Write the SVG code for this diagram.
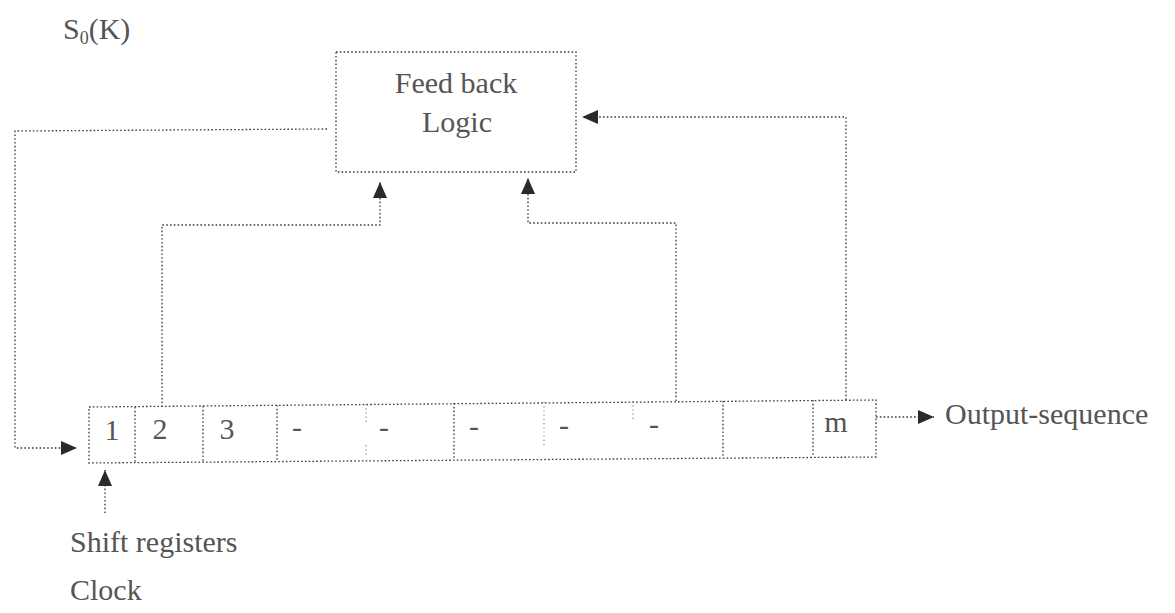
<svg xmlns="http://www.w3.org/2000/svg" width="1175" height="613" viewBox="0 0 1175 613">
<style>
.ln{fill:none;stroke:#3a3a3a;stroke-width:1.3;stroke-dasharray:1.6 2.2}
.bx{fill:none;stroke:#3a3a3a;stroke-width:1.3;stroke-dasharray:1.6 2.2}
.faint{fill:none;stroke:#8a8a8a;stroke-width:1.2;stroke-dasharray:1.2 3}
.t{font-family:"Liberation Serif","Times New Roman",serif;font-size:30px;fill:#555}
.tc{text-anchor:middle}
</style>
<defs>
<marker id="ah" viewBox="0 0 16 16" refX="16" refY="8" markerWidth="16" markerHeight="16" markerUnits="userSpaceOnUse" orient="auto">
<path d="M0,1 L16,8 L0,15 Z" fill="#2a2a2a"/>
</marker>
</defs>
<rect width="1175" height="613" fill="#ffffff"/>

<text class="t" x="63" y="39">S<tspan font-size="18" dy="5">0</tspan><tspan dy="-5">(K)</tspan></text>

<g id="feedback-logic">
<rect class="bx" x="336" y="52" width="240" height="120"/>
<text class="t tc" x="456" y="93">Feed back</text>
<text class="t tc" x="457" y="132">Logic</text>
</g>

<g id="shift-register">
<path class="bx" d="M89,407 L876,400 L876,457 L89,463 Z"/>
<line class="bx" x1="135" y1="407" x2="135" y2="463"/>
<line class="bx" x1="203" y1="406" x2="203" y2="462"/>
<line class="bx" x1="277" y1="405" x2="277" y2="462"/>
<line class="faint" x1="366" y1="404" x2="366" y2="422"/>
<line class="faint" x1="366" y1="445" x2="366" y2="455"/>
<line class="bx" x1="454" y1="403" x2="454" y2="460"/>
<line class="faint" x1="544" y1="402" x2="544" y2="448"/>
<line class="faint" x1="633" y1="401" x2="633" y2="420"/>
<line class="bx" x1="723" y1="401" x2="723" y2="458"/>
<line class="bx" x1="813" y1="400" x2="813" y2="457"/>
<text class="t tc" x="112" y="440">1</text>
<text class="t tc" x="160" y="439">2</text>
<text class="t tc" x="227" y="439">3</text>
<text class="t tc" x="297" y="437">-</text>
<text class="t tc" x="384" y="437">-</text>
<text class="t tc" x="474" y="436">-</text>
<text class="t tc" x="564" y="435">-</text>
<text class="t tc" x="654" y="434">-</text>
<text class="t tc" x="836" y="432">m</text>
</g>

<g id="labels">
<text class="t" x="945" y="424">Output-sequence</text>
<text class="t" x="70" y="552">Shift registers</text>
<text class="t" x="70" y="600">Clock</text>
</g>

<g id="connectors">
<polyline class="ln" points="327,129 15,131 15,448 77,448" marker-end="url(#ah)"/>
<polyline class="ln" points="162,407 162,225 380,225 380,182" marker-end="url(#ah)"/>
<polyline class="ln" points="676,401 676,223 528,223 528,178" marker-end="url(#ah)"/>
<polyline class="ln" points="846,400 846,117 582,117" marker-end="url(#ah)"/>
<line class="ln" x1="876" y1="417" x2="934" y2="417" marker-end="url(#ah)"/>
<line class="ln" x1="105" y1="513" x2="105" y2="470" marker-end="url(#ah)"/>
</g>
</svg>
